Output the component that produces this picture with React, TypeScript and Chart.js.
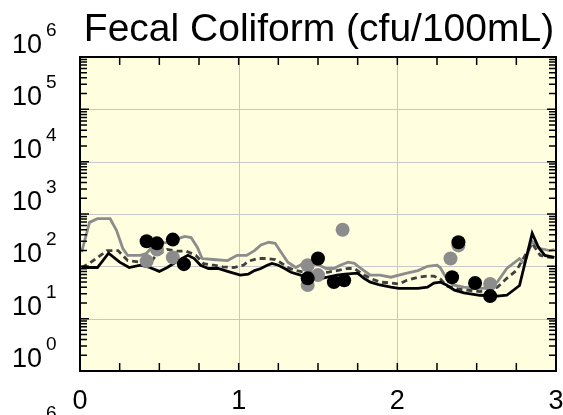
import React, { useEffect, useRef } from 'react';
import { Chart, registerables } from 'chart.js';

Chart.register(...registerables);

const titleText = 'Fecal Coliform (cfu/100mL)';
const xLabelValues = [0, 1, 2, 3];
const xTickLabels = ['0', '1', '2', '3'];
const xMinorTicks = [0.25, 0.5, 0.75, 1, 1.25, 1.5, 1.75, 2, 2.25, 2.5, 2.75];
const xGridValues = [1, 2];
const yDecadeValues = [1, 10, 100, 1000, 10000, 100000, 1000000];
const yExponentLabels = ['0', '1', '2', '3', '4', '5', '6'];
const yMinorMultipliers = [2, 3, 4, 5, 6, 7, 8, 9];

const grayLine: number[][] = [
  [0.01, 186], [0.06, 692], [0.11, 813], [0.19, 813], [0.23, 490], [0.27, 219], [0.30, 162],
  [0.38, 162], [0.42, 178], [0.48, 288], [0.50, 275], [0.55, 288], [0.62, 339], [0.66, 372],
  [0.70, 355], [0.74, 229], [0.77, 141], [0.84, 135], [0.93, 129], [0.99, 162], [1.05, 162],
  [1.10, 200], [1.14, 257], [1.19, 288], [1.23, 275], [1.26, 200], [1.31, 120], [1.36, 95],
  [1.40, 110], [1.45, 114], [1.51, 105], [1.55, 91], [1.60, 91], [1.64, 105], [1.69, 120],
  [1.73, 114], [1.77, 91], [1.83, 68], [1.89, 68], [1.96, 62], [2.01, 68], [2.06, 74],
  [2.13, 83], [2.19, 100], [2.25, 105], [2.27, 95], [2.31, 59], [2.35, 44], [2.42, 40],
  [2.48, 38], [2.57, 38], [2.63, 50], [2.69, 91], [2.77, 141], [2.80, 114], [2.85, 300],
  [2.90, 219], [2.96, 200], [2.99, 209],
];

const dashedLine: number[][] = [
  [0.01, 95], [0.06, 114], [0.17, 200], [0.24, 200], [0.30, 129], [0.38, 120], [0.44, 114],
  [0.48, 162], [0.55, 210], [0.61, 195], [0.67, 195], [0.73, 162], [0.78, 112], [0.84, 105],
  [0.90, 98], [0.97, 95], [1.03, 105], [1.06, 125], [1.12, 141], [1.18, 141], [1.23, 135],
  [1.26, 120], [1.31, 95], [1.36, 83], [1.42, 77], [1.48, 74], [1.50, 80], [1.56, 77],
  [1.62, 83], [1.69, 91], [1.73, 91], [1.77, 74], [1.83, 59], [1.89, 50], [1.96, 48],
  [2.01, 46], [2.06, 54], [2.13, 62], [2.19, 65], [2.23, 65], [2.27, 58], [2.31, 42],
  [2.38, 37], [2.44, 35], [2.52, 33], [2.57, 35], [2.63, 40], [2.69, 59], [2.75, 83],
  [2.85, 275], [2.90, 162], [2.96, 148], [2.99, 148],
];

const blackLine: number[][] = [
  [0.01, 95], [0.11, 95], [0.18, 178], [0.25, 120], [0.31, 95], [0.38, 105], [0.44, 95],
  [0.50, 80], [0.55, 95], [0.62, 129], [0.68, 162], [0.72, 141], [0.76, 105], [0.81, 91],
  [0.87, 91], [0.93, 80], [1.01, 68], [1.06, 71], [1.10, 83], [1.14, 91], [1.18, 105],
  [1.21, 114], [1.25, 105], [1.29, 91], [1.33, 77], [1.39, 68], [1.45, 62], [1.51, 58],
  [1.56, 62], [1.62, 68], [1.67, 71], [1.75, 74], [1.79, 59], [1.83, 50], [1.89, 44],
  [1.96, 40], [2.01, 38], [2.13, 38], [2.19, 40], [2.23, 48], [2.27, 50], [2.31, 44],
  [2.36, 35], [2.42, 31], [2.52, 28], [2.63, 27], [2.69, 28], [2.77, 43], [2.85, 427],
  [2.89, 229], [2.93, 162], [2.99, 148],
];

const grayDots: number[][] = [
  [0.42, 126], [0.485, 209], [0.585, 148], [1.435, 105], [1.435, 44], [1.50, 68],
  [1.655, 501], [2.335, 141], [2.385, 251], [2.585, 46],
];

const blackDots: number[][] = [
  [0.42, 302], [0.485, 275], [0.585, 324], [0.655, 110], [1.435, 59], [1.50, 141],
  [1.60, 50], [1.665, 54], [2.345, 62], [2.385, 288], [2.49, 48], [2.585, 27],
];

const FONT = '"Liberation Sans", Arial, Helvetica, sans-serif';
const toXY = (arr: number[][]) => arr.map(([x, y]) => ({ x, y }));

const framePlugin = {
  id: 'customFrame',
  beforeDatasetsDraw(chart: any) {
    const { ctx, chartArea: a, scales } = chart;
    const xs = scales.x;
    const ys = scales.y;
    ctx.save();
    ctx.fillStyle = '#FFFFE0';
    ctx.fillRect(a.left, a.top, a.right - a.left, a.bottom - a.top);
    ctx.strokeStyle = '#c8c8c8';
    ctx.lineWidth = 1;
    ctx.beginPath();
    xGridValues.forEach((v) => {
      const px = Math.round(xs.getPixelForValue(v)) + 0.5;
      ctx.moveTo(px, a.top);
      ctx.lineTo(px, a.bottom);
    });
    yDecadeValues.slice(1, -1).forEach((v) => {
      const py = Math.round(ys.getPixelForValue(v)) + 0.5;
      ctx.moveTo(a.left, py);
      ctx.lineTo(a.right, py);
    });
    ctx.stroke();
    ctx.restore();
  },
  afterDatasetsDraw(chart: any) {
    const { ctx, chartArea: a, scales } = chart;
    const xs = scales.x;
    const ys = scales.y;
    ctx.save();
    ctx.strokeStyle = '#000';
    ctx.lineWidth = 1.5;
    ctx.beginPath();
    xMinorTicks.forEach((v) => {
      const px = xs.getPixelForValue(v);
      ctx.moveTo(px, a.bottom);
      ctx.lineTo(px, a.bottom - 8);
      ctx.moveTo(px, a.top);
      ctx.lineTo(px, a.top + 8);
    });
    yDecadeValues.forEach((d, i) => {
      const py = ys.getPixelForValue(d);
      ctx.moveTo(a.left, py);
      ctx.lineTo(a.left + 9, py);
      ctx.moveTo(a.right, py);
      ctx.lineTo(a.right - 9, py);
      if (i < yDecadeValues.length - 1) {
        yMinorMultipliers.forEach((m) => {
          const pm = ys.getPixelForValue(d * m);
          ctx.moveTo(a.left, pm);
          ctx.lineTo(a.left + 7, pm);
          ctx.moveTo(a.right, pm);
          ctx.lineTo(a.right - 7, pm);
        });
      }
    });
    ctx.stroke();
    ctx.lineWidth = 2;
    ctx.strokeRect(a.left, a.top, a.right - a.left, a.bottom - a.top);
    ctx.restore();
  },
  afterDraw(chart: any) {
    const { ctx, chartArea: a, scales } = chart;
    const xs = scales.x;
    const ys = scales.y;
    ctx.save();
    ctx.fillStyle = '#000';
    ctx.font = `39px ${FONT}`;
    ctx.textAlign = 'center';
    ctx.textBaseline = 'alphabetic';
    ctx.fillText(titleText, (a.left + a.right) / 2 + 1, 41);
    yDecadeValues.forEach((d, i) => {
      const py = ys.getPixelForValue(d);
      ctx.textAlign = 'left';
      ctx.font = `27px ${FONT}`;
      ctx.fillText('10', 12, py - 4);
      ctx.font = `19px ${FONT}`;
      ctx.fillText(yExponentLabels[i], 46, py - 21);
    });
    ctx.font = `27px ${FONT}`;
    ctx.textAlign = 'center';
    xLabelValues.forEach((v, i) => {
      ctx.fillText(xTickLabels[i], xs.getPixelForValue(v), 409);
    });
    ctx.font = `19px ${FONT}`;
    ctx.textAlign = 'left';
    ctx.fillText('6', 46, 419);
    ctx.restore();
  },
};

export default function App() {
  const ref = useRef<HTMLCanvasElement | null>(null);
  useEffect(() => {
    document.body.style.margin = '0';
    const canvas = ref.current;
    if (!canvas) return;
    const chart = new Chart(canvas, {
      type: 'scatter',
      data: {
        datasets: [
          {
            label: 'black dots',
            data: toXY(blackDots),
            backgroundColor: '#000',
            borderWidth: 0,
            pointRadius: 7,
            showLine: false,
            order: 0,
          },
          {
            label: 'gray dots',
            data: toXY(grayDots),
            backgroundColor: '#8c8c8c',
            borderWidth: 0,
            pointRadius: 7,
            showLine: false,
            order: 1,
          },
          {
            label: 'black line',
            data: toXY(blackLine),
            borderColor: '#000',
            borderWidth: 2.8,
            pointRadius: 0,
            showLine: true,
            tension: 0,
            order: 2,
          },
          {
            label: 'dashed line',
            data: toXY(dashedLine),
            borderColor: '#404040',
            borderWidth: 2.8,
            borderDash: [6, 4],
            pointRadius: 0,
            showLine: true,
            tension: 0,
            order: 3,
          },
          {
            label: 'gray line',
            data: toXY(grayLine),
            borderColor: '#8c8c8c',
            borderWidth: 2.8,
            pointRadius: 0,
            showLine: true,
            tension: 0,
            order: 4,
          },
        ],
      } as any,
      options: {
        responsive: false,
        animation: false,
        layout: { padding: { left: 80, right: 6, top: 57, bottom: 44 } },
        plugins: {
          legend: { display: false },
          tooltip: { enabled: false },
          title: { display: false },
        },
        scales: {
          x: { type: 'linear', min: 0, max: 3, display: false },
          y: { type: 'logarithmic', min: 1, max: 1000000, display: false },
        },
      } as any,
      plugins: [framePlugin],
    });
    return () => chart.destroy();
  }, []);
  return <canvas ref={ref} width={563} height={415} style={{ display: 'block' }} />;
}
